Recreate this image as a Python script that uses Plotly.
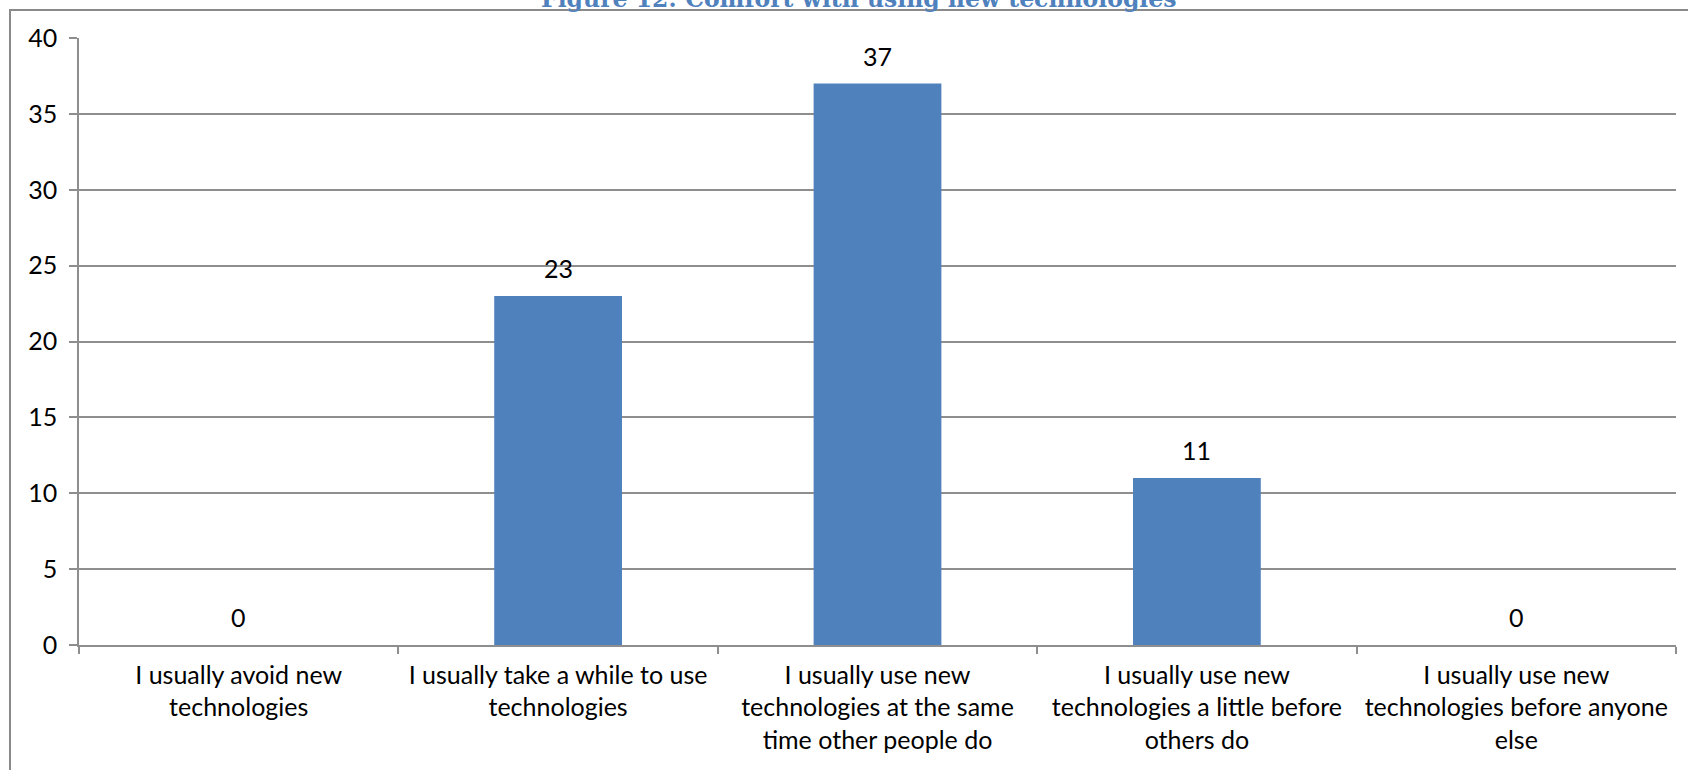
import plotly.graph_objects as go

# Survey responses: comfort with using new technologies
categories = [
    "I usually avoid new<br>technologies",
    "I usually take a while to use<br>technologies",
    "I usually use new<br>technologies at the same<br>time other people do",
    "I usually use new<br>technologies a little before<br>others do",
    "I usually use new<br>technologies before anyone<br>else",
]
counts = [0, 23, 37, 11, 0]
y_ticks = [0, 5, 10, 15, 20, 25, 30, 35, 40]

W, H = 1688, 770
L, R, T, B = 79, 12, 38, 125
plot_w = W - L - R
plot_h = H - T - B

def px_x(p):
    return (p - L) / plot_w

def px_y(p):
    return 1 + (T - p) / plot_h

BAR = "#4F81BD"
GRID = "#8E8E8E"
FONT = "Lato"
FS = 25

fig = go.Figure()
fig.add_trace(go.Bar(
    x=categories,
    y=counts,
    width=0.4,
    marker=dict(color=BAR, line=dict(width=0)),
    hoverinfo="skip",
))

# value labels above each bar
for c, v in zip(categories, counts):
    fig.add_annotation(
        x=c, y=v, xref="x", yref="y",
        text=str(v), showarrow=False,
        yanchor="middle", yshift=28,
        font=dict(family=FONT, size=FS, color="#000000"),
    )

# chart heading (partially above the chart frame)
fig.add_annotation(
    x=px_x(858), y=px_y(14.5), xref="paper", yref="paper",
    text="<b>Figure 12: Comfort with using new technologies</b>",
    showarrow=False, xanchor="center", yanchor="bottom",
    font=dict(family="DejaVu Serif", size=23.5, color="#4F81BD"),
)

# outer chart frame
fig.add_shape(
    type="rect", xref="paper", yref="paper",
    x0=px_x(10), x1=px_x(1720), y0=px_y(800), y1=px_y(10),
    line=dict(color="#8A8A8A", width=2), fillcolor="rgba(0,0,0,0)",
    layer="below",
)

fig.update_layout(
    width=W, height=H,
    margin=dict(l=L, r=R, t=T, b=B, pad=0),
    paper_bgcolor="white", plot_bgcolor="white",
    showlegend=False,
    font=dict(family=FONT, size=FS, color="#000000"),
    xaxis=dict(
        type="category",
        tickson="boundaries",
        ticks="outside", ticklen=7, tickcolor=GRID, tickwidth=1.5,
        showline=True, linecolor=GRID, linewidth=1.5,
        showgrid=False,
        tickfont=dict(family=FONT, size=FS, color="#000000"),
        ticklabelstandoff=7,
    ),
    yaxis=dict(
        range=[0, 40],
        tickvals=y_ticks,
        ticks="outside", ticklen=8, tickcolor=GRID, tickwidth=1.5,
        showline=True, linecolor=GRID, linewidth=1.5,
        showgrid=True, gridcolor=GRID, gridwidth=1.5,
        zeroline=False,
        tickfont=dict(family=FONT, size=FS, color="#000000"),
        ticklabelstandoff=7,
    ),
)

fig.write_html("out.html")
